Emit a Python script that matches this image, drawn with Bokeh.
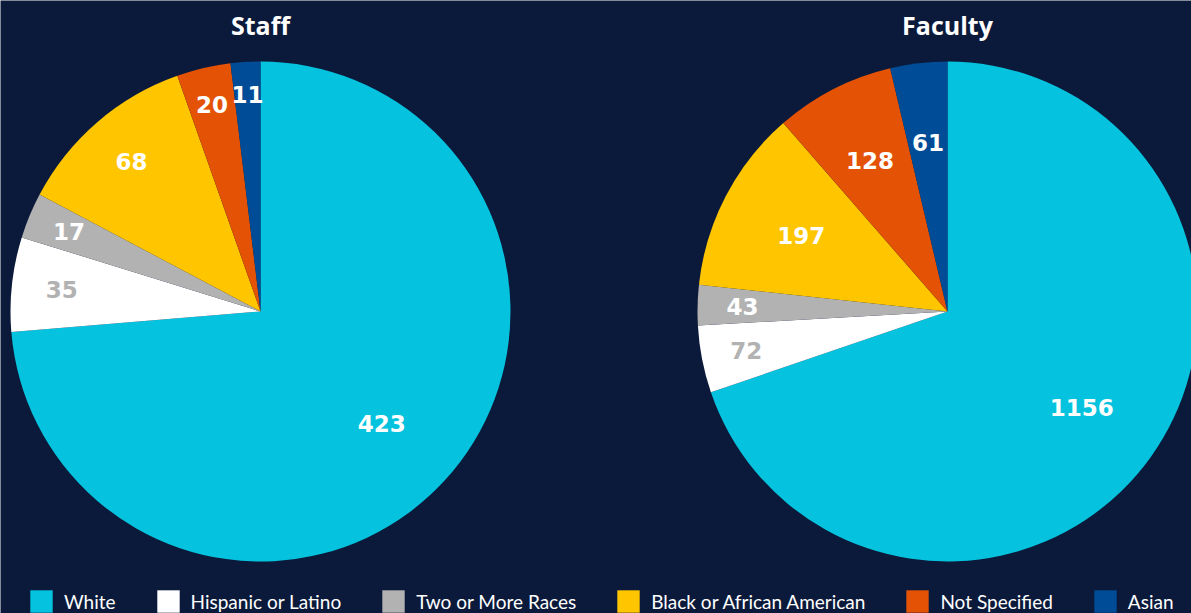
import numpy as np
from bokeh.plotting import figure
from bokeh.models import ColumnDataSource, Range1d, Legend, LegendItem
from bokeh.core.properties import value
from bokeh.embed import file_html
from bokeh.resources import INLINE

# ---- data ----
groups = ["White", "Hispanic or Latino", "Two or More Races",
          "Black or African American", "Not Specified", "Asian"]
staff = [423, 35, 17, 68, 20, 11]
faculty = [1156, 72, 43, 197, 128, 61]
titles = ["Staff", "Faculty"]

# ---- styles ----
colors = ["#05c3de", "#ffffff", "#b2b2b2", "#ffc600", "#e35205", "#004c97"]
label_colors = ["#ffffff", "#b2b2b2", "#ffffff", "#ffffff", "#ffffff", "#ffffff"]
staff_label_r = [0.66, 0.80, 0.83, 0.79, 0.85, 0.87]
faculty_label_r = [0.66, 0.82, 0.82, 0.66, 0.68, 0.68]
BG = "#0b1a3a"
R = 250
centers = [(260, 302), (947, 302)]

p = figure(width=1191, height=613, x_range=Range1d(0, 1191), y_range=Range1d(0, 613),
           output_backend="svg", toolbar_location=None, min_border=0,
           background_fill_color=BG, border_fill_color=BG, outline_line_color=None)
p.axis.visible = False
p.grid.visible = False


def pie(vals, center, label_r):
    vals = np.array(vals, dtype=float)
    frac = vals / vals.sum()
    cum = np.concatenate([[0], np.cumsum(frac)])
    start = np.pi / 2 - 2 * np.pi * cum[:-1]
    end = np.pi / 2 - 2 * np.pi * cum[1:]
    mid = (start + end) / 2
    lr = np.array(label_r) * R
    src = ColumnDataSource(dict(
        start=start, end=end, color=colors, name=groups,
        lx=center[0] + lr * np.cos(mid), ly=center[1] + lr * np.sin(mid),
        txt=[str(int(v)) for v in vals], tcolor=label_colors))
    r = p.wedge(x=center[0], y=center[1], radius=R, start_angle="start", end_angle="end",
                direction="clock", fill_color="color", line_color=None, source=src)
    p.text(x="lx", y="ly", text="txt", text_color="tcolor", text_align="center",
           text_baseline="middle", text_font=value("DejaVu Sans"), text_font_style="bold",
           text_font_size="23px", source=src)
    return r


r_staff = pie(staff, centers[0], staff_label_r)
pie(faculty, centers[1], faculty_label_r)

tsrc = ColumnDataSource(dict(x=[c[0] for c in centers], y=[589, 589], t=titles))
p.text(x="x", y="y", text="t", text_color="#ffffff", text_align="center",
       text_baseline="middle", text_font=value("Open Sans"), text_font_style="bold",
       text_font_size="25px", source=tsrc)

items = [LegendItem(label=g, renderers=[r_staff], index=i) for i, g in enumerate(groups)]
legend = Legend(items=items, orientation="horizontal", location=(27, -2),
                glyph_width=28, glyph_height=28, label_height=28, label_standoff=9,
                spacing=38, padding=0, margin=0, border_line_color=None,
                background_fill_alpha=0, label_text_color="#ffffff",
                label_text_font="Lato", label_text_font_size="19px")
p.add_layout(legend)

open("out.html", "w").write(file_html(p, INLINE))
